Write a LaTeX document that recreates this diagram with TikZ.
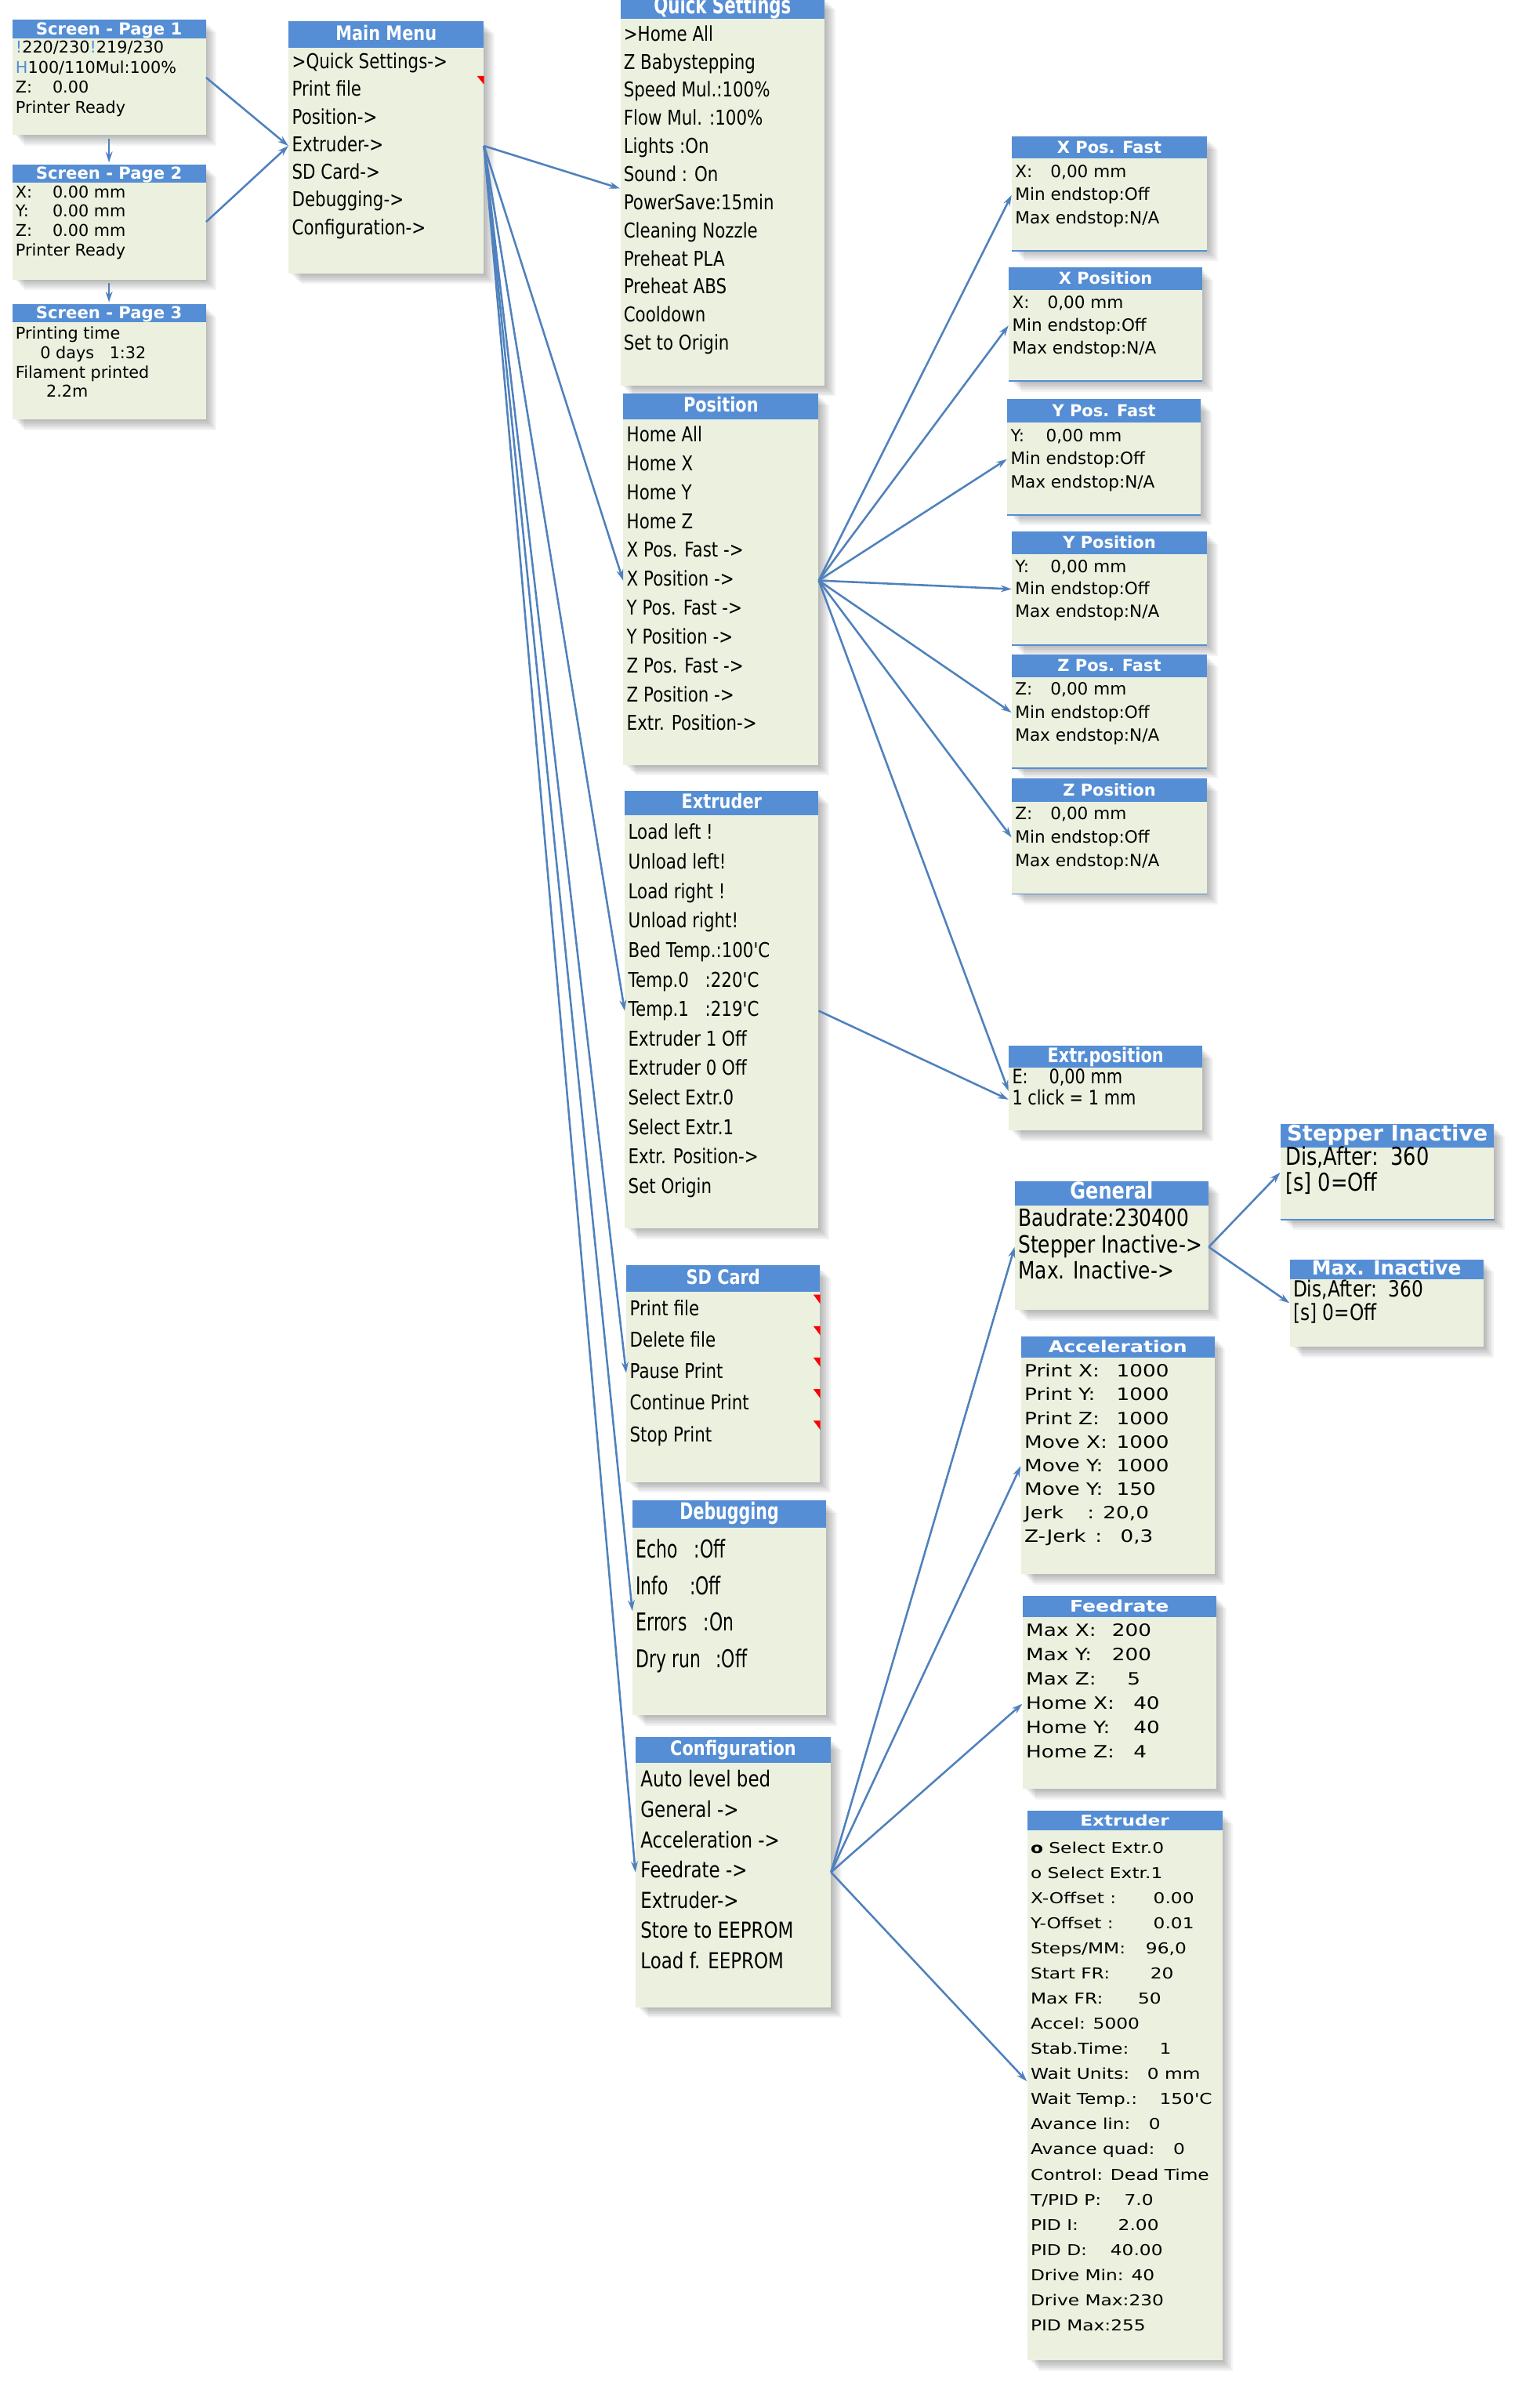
\documentclass[tikz,border=0pt]{standalone}
\usepackage{fontspec}
\setmainfont{DejaVu Sans}
\newfontfamily\condfont[FakeStretch=0.82]{DejaVu Sans}
\newfontfamily\narrowfont[FakeStretch=0.7]{DejaVu Sans}
\newfontfamily\widefont[FakeStretch=1.22]{DejaVu Sans}
\usetikzlibrary{arrows.meta,calc,fit}
\definecolor{titleblue}{RGB}{85,142,213}
\definecolor{bodyfill}{RGB}{235,241,222}
\definecolor{linkblue}{RGB}{79,129,189}
\definecolor{markred}{RGB}{255,0,0}

% fonts of the rows
\newcommand{\fscreen}{\fontsize{10.6}{12}\selectfont}
\newcommand{\fmenu}{\condfont\fontsize{13.3}{16}\selectfont}
\newcommand{\fcfg}{\condfont\fontsize{14.3}{16}\selectfont}
\newcommand{\fdbg}{\narrowfont\fontsize{16}{18}\selectfont}
\newcommand{\faxis}{\fontsize{11}{13}\selectfont}
\newcommand{\fclick}{\condfont\fontsize{13}{15}\selectfont}
\newcommand{\fgen}{\condfont\fontsize{15.5}{17}\selectfont}
\newcommand{\fstep}{\condfont\fontsize{16}{18}\selectfont}
\newcommand{\finact}{\condfont\fontsize{14.5}{16}\selectfont}
\newcommand{\facc}{\widefont\fontsize{11}{13}\selectfont}
\newcommand{\fextr}{\widefont\fontsize{9.75}{12}\selectfont}
% fonts of the titles
\newcommand{\tscreen}{\bfseries\fontsize{10.8}{12}\selectfont}
\newcommand{\tmenu}{\condfont\bfseries\fontsize{13}{15}\selectfont}
\newcommand{\tquick}{\narrowfont\bfseries\fontsize{15.5}{17}\selectfont}
\newcommand{\tdbg}{\narrowfont\bfseries\fontsize{15}{17}\selectfont}
\newcommand{\tgen}{\condfont\bfseries\fontsize{15}{17}\selectfont}
\newcommand{\taxis}{\bfseries\fontsize{10.7}{12}\selectfont}
\newcommand{\tstep}{\bfseries\fontsize{14}{16}\selectfont}
\newcommand{\tinact}{\bfseries\fontsize{12.7}{14}\selectfont}
\newcommand{\tacc}{\widefont\bfseries\fontsize{10.5}{12}\selectfont}
\newcommand{\tcext}{\widefont\bfseries\fontsize{9.7}{12}\selectfont}

\tikzset{
  rowtext/.style={anchor=west, inner sep=0pt, text height=0.73em, text depth=0pt},
  ttl/.style={text=white, inner sep=0pt, text height=0.73em, text depth=0pt},
  link/.style={draw=linkblue, line width=1.3pt, -{Stealth[length=7pt,width=4.5pt]}},
  edgeline/.style={draw=titleblue, line width=0.8pt},
}

% box: name, x1, y1, x2, y2, bottom of title band
\newcommand{\menubox}[6]{%
  \node[fit={(#2,#3) (#4,#5)}, inner sep=0pt] (#1) {};
  \foreach \sh in {1,...,7}
    \fill[black, opacity=0.045] (#2+\sh+1,#3+\sh+1) rectangle (#4+\sh,#5+\sh);
  \fill[bodyfill] (#2,#3) rectangle (#4,#5);
  \fill[titleblue] (#2,#3) rectangle (#4,#6);
  \coordinate (#1-title) at ({(#2+#4)/2},{(#3+#6)/2});
}
% rows: name, x, first y, step, font, list
\newcommand{\menurows}[6]{%
  \foreach \rowtxt [count=\i] in {#6}
    \node[rowtext, font={#5}] (#1-\i) at (#2,{#3+(\i-1)*#4}) {\rowtxt};
}

\begin{document}
\begin{tikzpicture}[x=1pt,y=-1pt]
\useasboundingbox (0,0) rectangle (991,1568);
% screens:
\menubox{p1}{8}{13}{134}{88}{25}
\node[ttl, font=\tscreen] (p1-t) at (p1-title) {Screen - Page 1};
\menurows{p1}{10}{31}{13}{\fscreen}{{\textcolor{titleblue}{!}220/230\textcolor{titleblue}{!}219/230},
  {\textcolor{titleblue}{H}100/110Mul:100\%}, {\makebox[24pt][l]{Z:}0.00}, {Printer Ready}}
\menubox{p2}{8}{107}{134}{182}{119}
\node[ttl, font=\tscreen] (p2-t) at (p2-title) {Screen - Page 2};
\menurows{p2}{10}{125}{12.7}{\fscreen}{{\makebox[24pt][l]{X:}0.00 mm}, {\makebox[24pt][l]{Y:}0.00 mm},
  {\makebox[24pt][l]{Z:}0.00 mm}, {Printer Ready}}
\menubox{p3}{8}{198}{134}{273}{210}
\node[ttl, font=\tscreen] (p3-t) at (p3-title) {Screen - Page 3};
\menurows{p3}{10}{217}{12.7}{\fscreen}{{Printing time}, {\hspace*{16pt}0 days\hspace{10pt}1:32},
  {Filament printed}, {\hspace*{20pt}2.2m}}
% menus:
\menubox{main}{188}{14}{315}{178}{31}
\node[ttl, font=\tmenu] (main-t) at (main-title) {Main Menu};
\menurows{main}{190}{41}{18}{\fmenu}{{>Quick Settings->}, {Print file}, {Position->}, {Extruder->},
  {SD Card->}, {Debugging->}, {Configuration->}}
\fill[markred] ($(main.east |- main-1)+(-4.5,8.5)$) -- ++(4.5,0) -- ++(0,5.5) -- cycle;
\menubox{qs}{404}{-2}{537}{251}{12}
\node[ttl, font=\tquick] (qs-t) at ($(qs-title)+(0,0.5)$) {Quick Settings};
\menurows{qs}{406}{23}{18.3}{\fmenu}{{>Home All}, {Z Babystepping}, {Speed Mul.:100\%}, {Flow Mul. :100\%},
  {Lights :On}, {Sound : On}, {PowerSave:15min}, {Cleaning Nozzle}, {Preheat PLA}, {Preheat ABS},
  {Cooldown}, {Set to Origin}}
\menubox{pos}{406}{256}{533}{498}{273}
\node[ttl, font=\tmenu] (pos-t) at (pos-title) {Position};
\menurows{pos}{408}{284}{18.8}{\fmenu}{{Home All}, {Home X}, {Home Y}, {Home Z}, {X Pos. Fast ->},
  {X Position ->}, {Y Pos. Fast ->}, {Y Position ->}, {Z Pos. Fast ->}, {Z Position ->}, {Extr. Position->}}
\menubox{ext}{407}{515}{533}{800}{531}
\node[ttl, font=\tmenu] (ext-t) at (ext-title) {Extruder};
\menurows{ext}{409}{543}{19.2}{\fmenu}{{Load left !}, {Unload left!}, {Load right !}, {Unload right!},
  {Bed Temp.:100'C}, {\makebox[50pt][l]{Temp.0}:220'C}, {\makebox[50pt][l]{Temp.1}:219'C},
  {Extruder 1 Off}, {Extruder 0 Off}, {Select Extr.0}, {Select Extr.1}, {Extr. Position->}, {Set Origin}}
\menubox{sd}{408}{824}{534}{965}{841}
\node[ttl, font=\tmenu] (sd-t) at (sd-title) {SD Card};
\menurows{sd}{410}{853}{20.5}{\fmenu}{{Print file}, {Delete file}, {Pause Print}, {Continue Print}, {Stop Print}}
\foreach \i in {1,...,5}
  \fill[markred] ($(sd.east |- sd-\i)+(-4.5,-10)$) -- ++(4.5,0) -- ++(0,6) -- cycle;
\menubox{dbg}{412}{977}{538}{1117}{995}
\node[ttl, font=\tdbg] (dbg-t) at (dbg-title) {Debugging};
\menurows{dbg}{414}{1011}{23.7}{\fdbg}{{\makebox[38pt][l]{Echo}:Off}, {\makebox[35pt][l]{Info}:Off},
  {\makebox[44pt][l]{Errors}:On}, {\makebox[52pt][l]{Dry run}:Off}}
\menubox{cfg}{414}{1131}{541}{1307}{1148}
\node[ttl, font=\tmenu] (cfg-t) at (cfg-title) {Configuration};
\menurows{cfg}{417}{1160}{19.7}{\fcfg}{{Auto level bed}, {General ->}, {Acceleration ->}, {Feedrate ->},
  {Extruder->}, {Store to EEPROM}, {Load f. EEPROM}}
% axis screens:
\menubox{xpf}{659}{89}{786}{163}{103}
\node[ttl, font=\taxis] (xpf-t) at (xpf-title) {X Pos. Fast};
\menurows{xpf}{661}{112}{15}{\faxis}{{\makebox[23pt][l]{X:}0,00 mm}, {Min endstop:Off}, {Max endstop:N/A}}
\menubox{xp}{657}{174}{783}{248}{189}
\node[ttl, font=\taxis] (xp-t) at (xp-title) {X Position};
\menurows{xp}{659}{197}{15}{\faxis}{{\makebox[23pt][l]{X:}0,00 mm}, {Min endstop:Off}, {Max endstop:N/A}}
\menubox{ypf}{656}{260}{782}{335}{275}
\node[ttl, font=\taxis] (ypf-t) at (ypf-title) {Y Pos. Fast};
\menurows{ypf}{658}{284}{15}{\faxis}{{\makebox[23pt][l]{Y:}0,00 mm}, {Min endstop:Off}, {Max endstop:N/A}}
\menubox{yp}{659}{346}{786}{420}{361}
\node[ttl, font=\taxis] (yp-t) at (yp-title) {Y Position};
\menurows{yp}{661}{369}{14.6}{\faxis}{{\makebox[23pt][l]{Y:}0,00 mm}, {Min endstop:Off}, {Max endstop:N/A}}
\menubox{zpf}{659}{426}{786}{500}{441}
\node[ttl, font=\taxis] (zpf-t) at (zpf-title) {Z Pos. Fast};
\menurows{zpf}{661}{449}{15}{\faxis}{{\makebox[23pt][l]{Z:}0,00 mm}, {Min endstop:Off}, {Max endstop:N/A}}
\menubox{zp}{659}{507}{786}{582}{522}
\node[ttl, font=\taxis] (zp-t) at (zp-title) {Z Position};
\menurows{zp}{661}{530}{15.3}{\faxis}{{\makebox[23pt][l]{Z:}0,00 mm}, {Min endstop:Off}, {Max endstop:N/A}}
\foreach \b in {xpf,xp,ypf,yp,zpf,zp}
  \draw[edgeline] (\b.south west) -- (\b.south east);
\menubox{ep}{657}{681}{783}{736}{695}
\node[ttl, font=\tmenu] (ep-t) at (ep-title) {Extr.position};
\menurows{ep}{659}{702}{14}{\fclick}{{\makebox[24pt][l]{E:}0,00 mm}, {1 click = 1 mm}}
% configuration screens:
\menubox{si}{834}{732}{973}{794}{747}
\node[ttl, font=\tstep] (si-t) at (si-title) {Stepper Inactive};
\menurows{si}{837}{755}{17}{\fstep}{{Dis,After:\hspace{0.5em}360}, {[s] 0=Off}}
\draw[edgeline] (si.south west) -- (si.south east);
\menubox{gen}{661}{769}{787}{853}{785}
\node[ttl, font=\tgen] (gen-t) at (gen-title) {General};
\menurows{gen}{663}{795}{17}{\fgen}{{Baudrate:230400}, {Stepper Inactive->}, {Max. Inactive->}}
\menubox{mi}{840}{820}{966}{877}{833}
\node[ttl, font=\tinact] (mi-t) at (mi-title) {Max. Inactive};
\menurows{mi}{842}{841}{15}{\finact}{{Dis,After:\hspace{0.5em}360}, {[s] 0=Off}}
\menubox{acc}{665}{870}{791}{1025}{884}
\node[ttl, font=\tacc] (acc-t) at (acc-title) {Acceleration};
\menurows{acc}{667}{893}{15.4}{\facc}{{\makebox[60pt][l]{Print X:}1000}, {\makebox[60pt][l]{Print Y:}1000},
  {\makebox[60pt][l]{Print Z:}1000}, {\makebox[60pt][l]{Move X:}1000}, {\makebox[60pt][l]{Move Y:}1000},
  {\makebox[60pt][l]{Move Y:}150}, {\makebox[41pt][l]{Jerk}: 20,0}, {\makebox[46pt][l]{Z-Jerk}:\hspace{12pt}0,3}}
\menubox{feed}{666}{1039}{792}{1165}{1053}
\node[ttl, font=\tacc] (feed-t) at (feed-title) {Feedrate};
\menurows{feed}{668}{1062}{15.8}{\facc}{{\makebox[56pt][l]{Max X:}200}, {\makebox[56pt][l]{Max Y:}200},
  {\makebox[66pt][l]{Max Z:}5}, {\makebox[70pt][l]{Home X:}40}, {\makebox[70pt][l]{Home Y:}40},
  {\makebox[70pt][l]{Home Z:}4}}
\menubox{cext}{669}{1179}{796}{1537}{1192}
\node[ttl, font=\tcext] (cext-t) at (cext-title) {Extruder};
\menurows{cext}{671}{1203}{16.37}{\fextr}{{\textbf{o} Select Extr.0}, {o Select Extr.1},
  {\makebox[80pt][l]{X-Offset :}0.00}, {\makebox[80pt][l]{Y-Offset :}0.01}, {\makebox[75pt][l]{Steps/MM:}96,0},
  {\makebox[78pt][l]{Start FR:}20}, {\makebox[70pt][l]{Max FR:}50}, {Accel: 5000},
  {\makebox[84pt][l]{Stab.Time:}1}, {\makebox[76pt][l]{Wait Units:}0 mm}, {\makebox[84pt][l]{Wait Temp.:}150'C},
  {\makebox[77pt][l]{Avance lin:}0}, {\makebox[93pt][l]{Avance quad:}0}, {Control: Dead Time},
  {\makebox[61pt][l]{T/PID P:}7.0}, {\makebox[57pt][l]{PID I:}2.00}, {\makebox[52pt][l]{PID D:}40.00},
  {Drive Min: 40}, {Drive Max:230}, {PID Max:255}}
% connectors:
\draw[link] (p1.east) -- (main.west |- main-4);
\draw[link] (p2.east) -- (main.west |- main-4);
\draw[link, shorten <=2pt, shorten >=1pt] (p1.south) -- (p2.north);
\draw[link, shorten <=2pt, shorten >=1pt] (p2.south) -- (p3.north);
\coordinate (mainout) at (main.east |- main-4);
\coordinate (qsin) at ($(qs-6)!.45!(qs-7)$);
\draw[link] (mainout) -- (qs.west |- qsin);
\draw[link] (mainout) -- (pos.west |- pos-6);
\draw[link] (mainout) -- (ext.west |- ext-7);
\draw[link] (mainout) -- (sd.west |- sd-3);
\coordinate (dbgin) at ($(dbg-2)!.6!(dbg-3)$);
\draw[link] (mainout) -- (dbg.west |- dbgin);
\draw[link] (mainout) -- (cfg.west |- cfg-4);
\coordinate (posout) at (pos.east |- pos-6);
\foreach \b in {xpf,xp,ypf,yp,zpf,zp}
  \draw[link] (posout) -- (\b.west |- \b-2);
\coordinate (epin) at ($(ep-1)!.6!(ep-2)$);
\draw[link] (posout) -- (ep.west |- epin);
\draw[link] (ext.east |- ext-7) -- (ep.west |- ep-2);
\coordinate (cfgout) at (cfg.east |- cfg-4);
\draw[link] (cfgout) -- (gen.west |- gen-2);
\draw[link] (cfgout) -- (acc.west |- acc-5);
\draw[link] (cfgout) -- (feed.west |- feed-4);
\coordinate (cextin) at ($(cext-10)!.3!(cext-11)$);
\draw[link] (cfgout) -- (cext.west |- cextin);
\coordinate (genout) at (gen.east |- gen-2);
\coordinate (siin) at ($(si-1)!.5!(si-2)$);
\draw[link] (genout) -- (si.west |- siin);
\coordinate (miin) at ($(mi-1)!.5!(mi-2)$);
\draw[link] (genout) -- (mi.west |- miin);
\end{tikzpicture}
\end{document}
